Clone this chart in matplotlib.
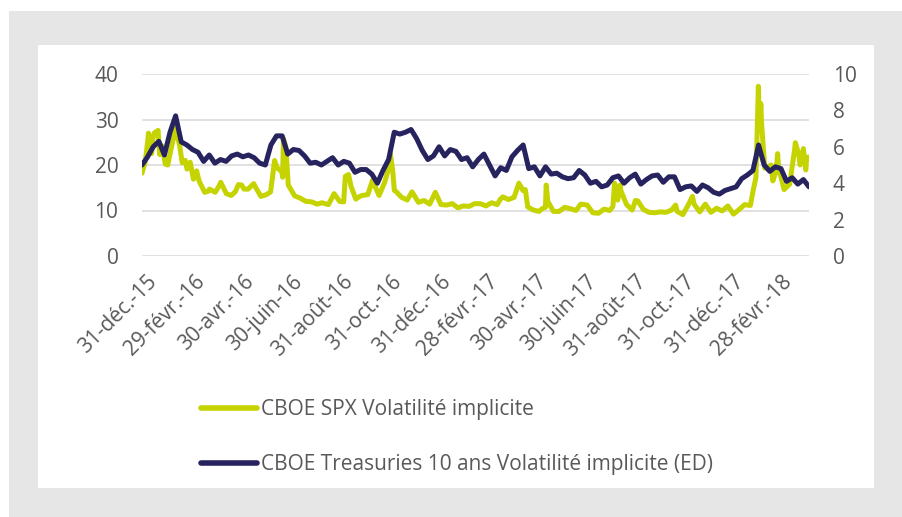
import matplotlib
matplotlib.use('Agg')
import matplotlib.pyplot as plt
import matplotlib.transforms as mtransforms
from matplotlib.patches import Rectangle
from matplotlib.lines import Line2D
import pandas as pd

plt.rcParams['font.family'] = ['Open Sans', 'DejaVu Sans']

# ---------------- data ----------------
vix_dates = [
    "2015-12-31", "2016-01-04", "2016-01-07", "2016-01-08", "2016-01-12", "2016-01-13", "2016-01-15",
    "2016-01-20", "2016-01-22", "2016-01-25", "2016-01-29", "2016-02-01", "2016-02-05", "2016-02-09",
    "2016-02-11", "2016-02-16", "2016-02-19", "2016-02-23", "2016-02-25", "2016-02-29", "2016-03-04",
    "2016-03-08", "2016-03-11", "2016-03-18", "2016-03-22", "2016-03-24", "2016-03-31", "2016-04-05",
    "2016-04-07", "2016-04-14", "2016-04-20", "2016-04-25", "2016-04-29", "2016-05-03", "2016-05-06",
    "2016-05-11", "2016-05-18", "2016-05-20", "2016-05-27", "2016-06-03", "2016-06-08", "2016-06-13",
    "2016-06-16", "2016-06-22", "2016-06-23", "2016-06-24", "2016-06-27", "2016-06-30", "2016-07-08",
    "2016-07-14", "2016-07-22", "2016-07-29", "2016-08-05", "2016-08-11", "2016-08-19", "2016-08-26",
    "2016-09-02", "2016-09-07", "2016-09-09", "2016-09-13", "2016-09-16", "2016-09-22", "2016-09-27",
    "2016-09-30", "2016-10-07", "2016-10-13", "2016-10-14", "2016-10-21", "2016-10-28", "2016-11-02",
    "2016-11-04", "2016-11-07", "2016-11-09", "2016-11-11", "2016-11-18", "2016-11-25", "2016-12-01",
    "2016-12-09", "2016-12-16", "2016-12-23", "2016-12-30", "2017-01-06", "2017-01-13", "2017-01-20",
    "2017-01-27", "2017-02-03", "2017-02-10", "2017-02-17", "2017-02-24", "2017-03-03", "2017-03-10",
    "2017-03-17", "2017-03-21", "2017-03-24", "2017-03-31", "2017-04-07", "2017-04-13", "2017-04-18",
    "2017-04-21", "2017-04-24", "2017-05-01", "2017-05-08", "2017-05-12", "2017-05-16", "2017-05-17",
    "2017-05-19", "2017-05-26", "2017-06-02", "2017-06-09", "2017-06-16", "2017-06-23", "2017-06-29",
    "2017-07-07", "2017-07-14", "2017-07-21", "2017-07-28", "2017-08-04", "2017-08-08", "2017-08-10",
    "2017-08-11", "2017-08-14", "2017-08-17", "2017-08-18", "2017-08-25", "2017-09-01", "2017-09-05",
    "2017-09-08", "2017-09-15", "2017-09-22", "2017-09-29", "2017-10-06", "2017-10-13", "2017-10-20",
    "2017-10-25", "2017-10-27", "2017-11-03", "2017-11-10", "2017-11-15", "2017-11-17", "2017-11-24",
    "2017-12-01", "2017-12-08", "2017-12-15", "2017-12-22", "2017-12-29", "2018-01-05", "2018-01-12",
    "2018-01-19", "2018-01-26", "2018-01-30", "2018-02-02", "2018-02-05", "2018-02-06", "2018-02-07",
    "2018-02-08", "2018-02-09", "2018-02-13", "2018-02-16", "2018-02-21", "2018-02-23", "2018-02-27",
    "2018-03-01", "2018-03-02", "2018-03-09", "2018-03-16", "2018-03-22", "2018-03-23", "2018-03-27",
    "2018-03-29", "2018-04-02", "2018-04-05", "2018-04-06", "2018-04-09",
]
vix_values = [
    18.2, 20.7, 25.0, 27.0, 22.5, 25.2, 27.0,
    27.6, 22.3, 24.2, 20.2, 20.0, 23.4, 26.5,
    28.1, 24.1, 20.5, 21.0, 19.1, 20.6, 16.9,
    18.7, 16.5, 14.0, 14.2, 14.7, 14.0, 15.4,
    16.2, 13.7, 13.3, 14.1, 15.7, 15.6, 14.7,
    14.7, 15.9, 15.2, 13.1, 13.5, 14.1, 21.0,
    19.4, 18.5, 17.3, 25.8, 23.9, 15.6, 13.2,
    12.8, 12.0, 11.9, 11.4, 11.7, 11.3, 13.7,
    12.0, 11.9, 17.5, 17.9, 15.4, 12.5, 13.1,
    13.3, 13.5, 16.7, 16.1, 13.3, 16.2, 19.3,
    22.5, 18.7, 14.4, 14.2, 12.9, 12.3, 14.1,
    11.8, 12.2, 11.4, 14.0, 11.3, 11.2, 11.5,
    10.6, 11.0, 10.9, 11.5, 11.5, 11.0, 11.7,
    11.3, 12.5, 13.0, 12.4, 12.9, 16.0, 14.4,
    14.6, 10.8, 10.1, 9.8, 10.4, 10.7, 15.6,
    12.0, 9.8, 9.8, 10.7, 10.4, 10.0, 11.4,
    11.2, 9.5, 9.4, 10.3, 10.0, 10.9, 16.0,
    15.5, 12.3, 15.6, 14.3, 11.3, 10.1, 12.2,
    12.1, 10.2, 9.6, 9.5, 9.7, 9.6, 10.1,
    11.2, 9.8, 9.1, 11.3, 13.1, 11.4, 9.7,
    11.4, 9.6, 10.5, 9.9, 11.0, 9.2, 10.2,
    11.3, 11.1, 14.8, 17.3, 37.3, 30.0, 27.7,
    33.5, 29.1, 19.3, 19.5, 20.0, 16.5, 18.6,
    22.5, 19.6, 14.6, 15.8, 23.3, 24.9, 22.5,
    20.0, 23.6, 18.9, 21.5, 21.8,
]

tyvix_start = "2015-12-31"
tyvix_end = "2018-04-09"
tyvix_values = [
    5.0, 5.45, 6.0, 6.3, 5.55, 6.8, 7.7, 6.27, 6.1, 5.85,
    5.7, 5.2, 5.55, 5.1, 5.3, 5.2, 5.5, 5.6, 5.45, 5.55,
    5.4, 5.1, 5.0, 6.1, 6.6, 6.6, 5.6, 5.85, 5.8, 5.5,
    5.1, 5.15, 5.0, 5.2, 5.4, 5.0, 5.2, 5.1, 4.6, 4.75,
    4.75, 4.5, 4.0, 4.7, 5.3, 6.8, 6.7, 6.8, 6.95, 6.45,
    5.8, 5.3, 5.5, 6.0, 5.5, 5.85, 5.75, 5.3, 5.4, 4.9,
    5.3, 5.6, 5.0, 4.4, 4.85, 4.7, 5.45, 5.8, 6.1, 4.8,
    4.9, 4.4, 4.9, 4.5, 4.55, 4.35, 4.25, 4.3, 4.7, 4.45,
    4.0, 4.1, 3.8, 3.9, 4.3, 4.4, 4.0, 4.3, 4.5, 3.95,
    4.2, 4.4, 4.45, 4.05, 4.35, 4.35, 3.65, 3.8, 3.85, 3.55,
    3.9, 3.75, 3.5, 3.4, 3.6, 3.7, 3.8, 4.25, 4.45, 4.7,
    6.1, 5.0, 4.65, 4.9, 4.8, 4.1, 4.3, 3.95, 4.2, 3.8,
]

tick_dates = ["2015-12-31", "2016-02-29", "2016-04-30", "2016-06-30", "2016-08-31", "2016-10-31",
              "2016-12-31", "2017-02-28", "2017-04-30", "2017-06-30", "2017-08-31", "2017-10-31",
              "2017-12-31", "2018-02-28"]
tick_labels = ["31-déc.-15", "29-févr.-16", "30-avr.-16", "30-juin-16", "31-août-16", "31-oct.-16",
               "31-déc.-16", "28-févr.-17", "30-avr.-17", "30-juin-17", "31-août-17", "31-oct.-17",
               "31-déc.-17", "28-févr.-18"]
left_ticks = [0, 10, 20, 30, 40]
right_ticks = [0, 2, 4, 6, 8, 10]

series_names = ["CBOE SPX Volatilité implicite",
                "CBOE Treasuries 10 ans Volatilité implicite (ED)"]

# ---------------- style ----------------
YELLOW = "#c5d300"
NAVY = "#27235f"
GRID = "#d9d9d9"
TXT = "#595959"
FS = 15

W, H = 903, 517
fig = plt.figure(figsize=(W / 100, H / 100), dpi=100)
fig.patch.set_facecolor("white")
fig.patches.append(Rectangle((9 / W, 0), 1 - 9 / W, 1 - 11 / H, transform=fig.transFigure,
                             facecolor="#e6e6e6", edgecolor="none", zorder=-10))
fig.patches.append(Rectangle((38 / W, 1 - 488 / H), (874 - 38) / W, (488 - 45) / H,
                             transform=fig.transFigure, facecolor="white", edgecolor="none", zorder=-9))

ax = fig.add_axes([142 / W, 1 - 256 / H, 667 / W, 182 / H])
ax.patch.set_visible(False)
ax2 = ax.twinx()

vx = pd.to_datetime(vix_dates)
tx = pd.date_range(tyvix_start, tyvix_end, periods=len(tyvix_values))

ax.plot(vx, vix_values, color=YELLOW, lw=3.6, solid_joinstyle="round", solid_capstyle="round", zorder=3)
ax2.plot(tx, tyvix_values, color=NAVY, lw=3.6, solid_joinstyle="round", solid_capstyle="round", zorder=3)

ax.set_xlim(pd.Timestamp("2015-12-31"), pd.Timestamp("2018-04-09"))
ax.set_ylim(0, 40)
ax2.set_ylim(0, 10)

ax.set_yticks(left_ticks)
ax2.set_yticks(right_ticks)
ax.yaxis.grid(True, color=GRID, lw=1.1)
ax.set_axisbelow(True)

for a in (ax, ax2):
    for s in a.spines.values():
        s.set_visible(False)

ax.tick_params(axis="y", length=0, pad=17, labelsize=FS, labelcolor=TXT)
ax2.tick_params(axis="y", length=0, pad=17, labelsize=FS, labelcolor=TXT)

ax.set_xticks(pd.to_datetime(tick_dates))
ax.set_xticklabels(tick_labels, rotation=45, ha="right", va="top", rotation_mode="anchor")
ax.tick_params(axis="x", length=0, pad=11, labelsize=FS, labelcolor=TXT)
offset = mtransforms.ScaledTranslation(4 / 100, 0, fig.dpi_scale_trans)
for lab in ax.get_xticklabels():
    lab.set_transform(lab.get_transform() + offset)

handles = [Line2D([], [], color=YELLOW, lw=4.0, solid_capstyle="round"),
           Line2D([], [], color=NAVY, lw=4.0, solid_capstyle="round")]
leg = fig.legend(handles, series_names, loc="upper left", bbox_to_anchor=(201 / W, 1 - 399 / H),
                 frameon=False, fontsize=FS, handlelength=2.7, handletextpad=0.2,
                 labelspacing=1.65, borderaxespad=0, borderpad=0)
for t in leg.get_texts():
    t.set_color(TXT)

fig.savefig("out.png", dpi=100)
